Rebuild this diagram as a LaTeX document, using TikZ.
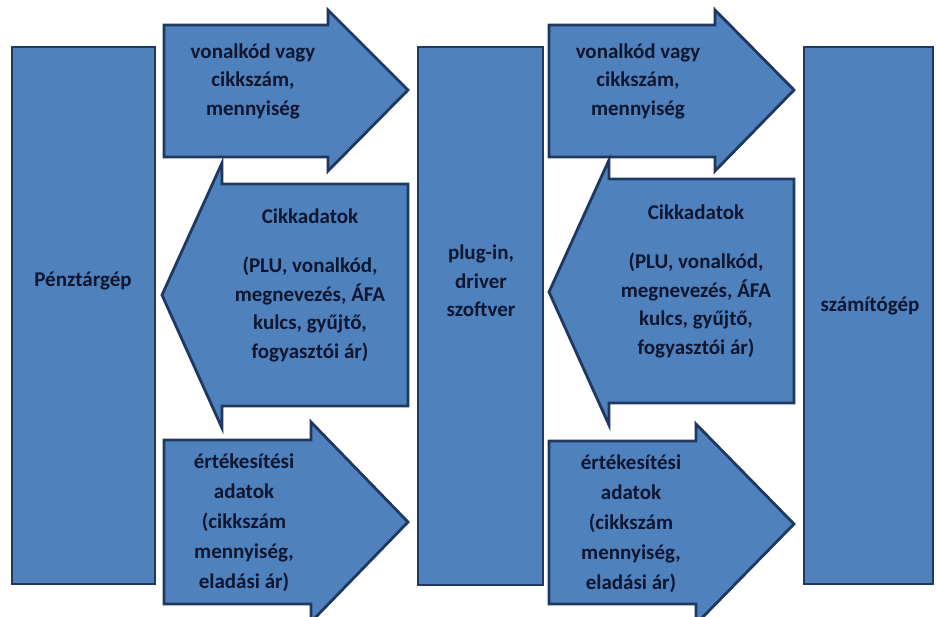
\documentclass[tikz,border=0pt]{standalone}
\usepackage{fontspec}
\setmainfont{Carlito}
\usepackage{tikz}
\definecolor{boxfill}{HTML}{4F81BD}
\definecolor{boxline}{HTML}{1F3860}
\definecolor{boxtext}{HTML}{0E1630}

\begin{document}
\begin{tikzpicture}[x=1pt, y=-1pt,
  box/.style={draw=boxline, fill=boxfill, line width=2.8pt, inner sep=0pt},
  txt/.style={text=boxtext, font=\bfseries\fontsize{21}{28.5}\selectfont, align=center, inner sep=0pt},
  widetxt/.style={txt, font=\bfseries\fontsize{21}{30}\selectfont}]
\clip (0,0) rectangle (936,616);

\node[box, minimum width=143pt, minimum height=537pt] (penztar) at (83.5,315.5) {};
\node[box, minimum width=125pt, minimum height=538pt] (plugin) at (480.5,316) {};
\node[box, minimum width=129pt, minimum height=537pt] (gep) at (868.5,315.5) {};

\draw[box] (164,25) -- (328,25) -- (328,10) -- (408,90) -- (328,171) -- (328,157) -- (164,157) -- cycle;
\draw[box] (549,25) -- (715,25) -- (715,10) -- (794,90) -- (715,171) -- (715,157) -- (549,157) -- cycle;
\draw[box] (408,184) -- (222,184) -- (222,163) -- (162,295) -- (222,428) -- (222,406) -- (408,406) -- cycle;
\draw[box] (794,179) -- (609,179) -- (609,160) -- (549,292) -- (609,425) -- (609,403) -- (794,403) -- cycle;
\draw[box] (164,440) -- (311,440) -- (311,422) -- (408,522) -- (311,622) -- (311,604) -- (164,604) -- cycle;
\draw[box] (549,441) -- (696,441) -- (696,424) -- (794,524) -- (696,624) -- (696,604) -- (549,604) -- cycle;

\node[txt] (penztartxt) at (83,281) {Pénztárgép};
\node[txt] (plugintxt) at (481,281) {plug-in,\\driver\\szoftver};
\node[txt] (geptxt) at (870,306) {számítógép};

\node[txt] (kod1) at (253,81) {vonalkód vagy\\cikkszám,\\mennyiség};
\node[txt] (kod2) at (638,81) {vonalkód vagy\\cikkszám,\\mennyiség};
\node[txt] (cikk1) at (310,285) {Cikkadatok\\[21pt](PLU, vonalkód,\\megnevezés, ÁFA\\kulcs, gyűjtő,\\fogyasztói ár)};
\node[txt] (cikk2) at (696,281) {Cikkadatok\\[21pt](PLU, vonalkód,\\megnevezés, ÁFA\\kulcs, gyűjtő,\\fogyasztói ár)};
\node[widetxt] (ert1) at (244,523) {értékesítési\\adatok\\(cikkszám\\mennyiség,\\eladási ár)};
\node[widetxt] (ert2) at (631,524) {értékesítési\\adatok\\(cikkszám\\mennyiség,\\eladási ár)};
\end{tikzpicture}
\end{document}
